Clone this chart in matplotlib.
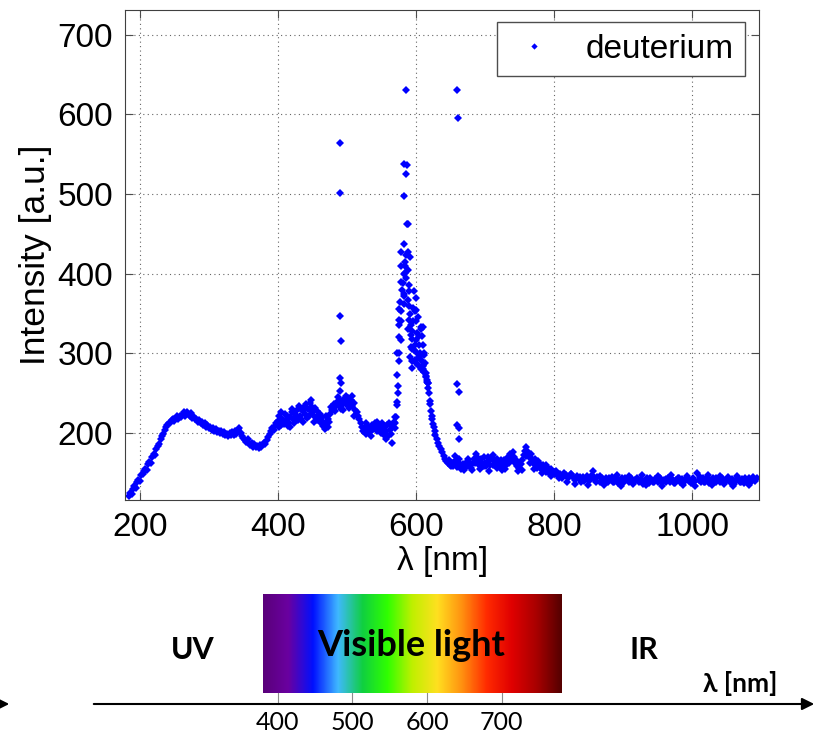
import numpy as np
import matplotlib
matplotlib.use('Agg')
import matplotlib.pyplot as plt
from matplotlib.colors import LinearSegmentedColormap

# deuterium lamp spectrum (nm, a.u.)
uv_wl = np.arange(184, 400, 2)
uv_int = [121, 125, 124, 130, 133, 131, 138, 141, 140, 147, 149, 152, 155, 153, 161, 164, 163, 170, 174, 172,
          180, 184, 186, 193, 196, 199, 204, 207, 210, 213, 212, 216, 218, 215, 219, 221, 218, 222,
          220, 224, 226, 222, 227, 224, 221, 225, 219, 220, 217, 218, 214, 216, 212, 214, 210, 212, 208, 210,
          206, 208, 204, 206, 203, 205, 201, 203, 200, 202, 199, 201, 197, 199, 196, 200, 197, 201, 198, 203,
          199, 204, 206, 200, 196, 194, 191, 189, 192, 187, 185, 188, 183, 186, 182, 184, 181, 185, 183, 186,
          188, 186, 191, 195, 199, 203, 206, 204, 209, 212]

vis_wl = np.arange(400, 572, 2)
vis_int = [215, 222, 210, 218, 213, 224, 216, 209, 213, 220, 226, 217, 212, 221, 229, 234, 222, 218, 228, 233,
           224, 219, 230, 238, 241, 226, 221, 231, 216, 222, 217, 212, 220, 209, 205, 212, 218, 214, 224, 229,
           232, 237, 234, 239, 236, 241, 233, 238, 243, 236, 240, 244, 237, 241, 234, 238, 229, 226, 222, 217,
           212, 208, 203, 206, 199, 204, 208, 201, 210, 205, 213, 207, 202, 209, 204, 200, 207, 198, 203, 210,
           196, 204, 199, 208, 214, 206]

tail_wl = np.arange(600, 700, 2)
tail_int = [340, 325, 310, 300, 292, 284, 276, 270, 264, 256, 240, 228, 217, 207, 198, 193, 188, 184, 180, 176,
            171, 168, 165, 162, 166, 160, 163, 158, 165, 161, 157, 163, 159, 155, 161, 157, 163, 158, 165, 161,
            156, 163, 168, 162, 170, 165, 160, 167, 162, 158]

extra_wl = [401, 405, 409, 413, 417, 421, 425, 429, 433, 437, 441, 445, 449, 453, 457, 461, 465, 469, 473, 477,
            483, 487, 491, 495, 499, 503, 507, 511, 527, 535, 543, 551, 557, 561, 565, 569,
            603, 607, 609, 611, 613, 615, 617, 619, 621, 623, 625, 627,
            651, 657, 663, 669, 675, 681, 687, 693, 699,
            705, 711, 717, 723, 729, 735, 741, 747, 753, 759, 765, 771, 777, 783, 789, 795]
extra_int = [208, 226, 211, 221, 207, 230, 224, 216, 230, 214, 236, 222, 233, 214, 228, 224, 214, 221, 207, 233,
             228, 245, 230, 229, 246, 232, 246, 222, 212, 196, 214, 212, 193, 213, 187, 220,
             345, 333, 322, 298, 288, 275, 263, 250, 236, 222, 211, 203,
             158, 171, 168, 153, 167, 153, 174, 155, 170,
             170, 160, 167, 166, 155, 163, 168, 165, 153, 171, 162, 155, 165, 150, 160, 146]

peak_wl = [570, 571, 572, 572, 573, 573, 574, 575, 575, 576, 576, 576, 577, 578, 578, 578, 579, 579, 581, 582,
           582, 582, 582, 583, 583, 584, 584, 585, 585, 586, 587, 587, 588, 588, 589, 589, 590, 590, 590, 591,
           593, 593, 593, 595, 595, 595, 596, 597, 597, 599, 600, 600, 600, 600, 602, 605, 606, 607, 610, 610,
           610, 610, 611, 611, 614, 616, 618,
           574, 576, 578, 580, 582, 584, 586, 588, 590, 592, 594, 596, 598, 592, 594, 598, 603, 604, 608]
peak_int = [212, 220, 300, 239, 273, 235, 259, 320, 300, 342, 335, 356, 365, 390, 410, 317, 353, 427, 388, 375,
            372, 437, 498, 538, 362, 410, 401, 423, 525, 631, 536, 462, 367, 330, 462, 427, 386, 378, 342, 421,
            335, 323, 308, 328, 291, 282, 357, 378, 304, 353, 370, 355, 317, 288, 300, 322, 297, 330, 333, 310,
            286, 280, 300, 276, 271, 266, 263,
            250, 290, 340, 380, 400, 415, 395, 405, 360, 350, 318, 340, 310, 295, 305, 292, 285, 295, 280]

line_wl = [490, 490, 490, 491, 490, 491, 490, 660, 661, 660, 662, 660, 663, 663]
line_int = [564, 501, 347, 316, 269, 263, 253, 631, 596, 261, 252, 210, 206, 192]

ir_wl = np.arange(700, 800, 2)
ir_int = [162, 158, 165, 152, 160, 168, 172, 166, 160, 156, 163, 158, 154, 161, 166, 160, 167, 170, 174, 168,
          176, 170, 163, 158, 152, 156, 161, 166, 172, 178, 182, 176, 170, 174, 167, 162, 168, 160, 156, 162,
          158, 154, 160, 155, 151, 157, 153, 149, 155, 151]

far_wl = np.arange(800, 1095, 3)
far_int = [148, 152, 146, 149, 144, 150, 147, 143, 148, 145, 141, 146, 143, 139, 145, 142, 146, 140, 144, 152,
           141, 145, 139, 143, 140, 144, 138, 142, 145, 139, 143, 137, 141, 144, 138, 142, 139, 143, 137, 141,
           144, 138, 142, 136, 140, 143, 137, 141, 138, 142, 139, 144, 137, 141, 138, 143, 139, 142, 137, 141,
           144, 138, 142, 139, 144, 140, 137, 143, 140, 150, 141, 138, 143, 139, 144, 137, 141, 144, 138, 142,
           139, 144, 137, 141, 145, 138, 142, 136, 141, 144, 139, 142, 137, 141, 144, 138, 142, 140, 143]

far2_wl = np.arange(801, 1095, 6)
far2_int = [151, 143, 146, 139, 148, 136, 145, 140, 135, 147, 138, 146, 135, 144, 139, 147, 134, 143, 146, 136,
            141, 147, 135, 144, 139, 146, 134, 142, 147, 137, 143, 135, 146, 140, 134, 145, 138, 147, 135, 143,
            146, 136, 141, 134, 146, 139, 144, 135, 145]

# bottom sketch of the spectrum
vis_ticks = [400, 500, 600, 700]
vis_range = (380, 780)
spec_colors = ['#5a007a', '#6a00a0', '#0010ff', '#3fb8ff', '#10d040', '#30ff00', '#c0f000',
               '#ffe020', '#ff9010', '#ff2a00', '#e00000', '#a80000', '#550000']

plt.rcParams['font.family'] = ['Liberation Sans', 'DejaVu Sans']

wl = np.concatenate([uv_wl, vis_wl, tail_wl, extra_wl, peak_wl, line_wl, ir_wl, far_wl, far2_wl])
inten = np.concatenate([uv_int, vis_int, tail_int, extra_int, peak_int, line_int, ir_int, far_int, far2_int])

fig = plt.figure(figsize=(8.17, 7.36), dpi=100)
ax = fig.add_axes([0.1534, 0.3207, 0.7756, 0.6658])
ax.plot(wl, inten, linestyle='none', marker='D', markersize=4, color='#0000ff',
        markeredgewidth=0, label='deuterium')
ax.set_xlim(179, 1097)
ax.set_ylim(116, 731)
ax.set_xticks([200, 400, 600, 800, 1000])
ax.set_yticks([200, 300, 400, 500, 600, 700])
ax.grid(True, linestyle=(0, (1, 3)), color='0.4', linewidth=0.8)
ax.tick_params(direction='in', top=True, right=True, length=6, labelsize=24, pad=9, color='0.3')
for s in ax.spines.values():
    s.set_color('0.25')
ax.set_xlabel('λ [nm]', fontsize=24, labelpad=2)
ax.set_ylabel('Intensity [a.u.]', fontsize=25.5, labelpad=4)
leg = ax.legend(loc='upper right', bbox_to_anchor=(0.978, 0.9755), borderaxespad=0, fontsize=24,
                fancybox=False, edgecolor='0.3', framealpha=1, handletextpad=0.8, handlelength=1.5,
                borderpad=0.35, markerscale=0.8)
leg.get_frame().set_linewidth(1.0)

# lower panel: UV / visible / IR strip, coordinates in nm and pixels
px_per_nm = 0.747
x0 = 400 - 277.6 / px_per_nm
x1 = x0 + 817 / px_per_nm
axs = fig.add_axes([0, 0, 1, 0.27])
axs.set_xlim(x0, x1)
axs.set_ylim(736, 736 - 0.27 * 736)
axs.axis('off')

cmap = LinearSegmentedColormap.from_list('vis', spec_colors)
axs.imshow(np.linspace(0, 1, 256)[None, :], cmap=cmap, aspect='auto',
           extent=(vis_range[0], vis_range[1], 693, 594))
bold_fam = ['Liberation Sans Narrow', 'Lato', 'DejaVu Sans']
for t in vis_ticks:
    axs.plot([t, t], [693, 704], color='0.55', linewidth=0.8)
    axs.text(t, 722, str(t), ha='center', va='center', fontsize=18, family=bold_fam)

axs.annotate('', xy=(x1, 704), xytext=(x0 + 91 / px_per_nm, 704),
             arrowprops=dict(arrowstyle='-|>', color='black', lw=1.5, mutation_scale=18))
axs.annotate('', xy=(x0 + 12 / px_per_nm, 704), xytext=(x0 - 20 / px_per_nm, 704),
             arrowprops=dict(arrowstyle='-|>', color='black', lw=1.5, mutation_scale=18),
             annotation_clip=False)

axs.text(x0 + 193 / px_per_nm, 650, 'UV', ha='center', va='center', fontsize=22,
         fontweight='bold', family=bold_fam)
axs.text(x0 + 644 / px_per_nm, 650, 'IR', ha='center', va='center', fontsize=22,
         fontweight='bold', family=bold_fam)
axs.text(x0 + 411 / px_per_nm, 645, 'Visible light', ha='center', va='center', fontsize=26,
         fontweight='bold', family=bold_fam)
axs.text(x0 + 740 / px_per_nm, 683, 'λ [nm]', ha='center', va='center', fontsize=19,
         fontweight='bold', family=bold_fam)

fig.savefig('out.png', dpi=100)
